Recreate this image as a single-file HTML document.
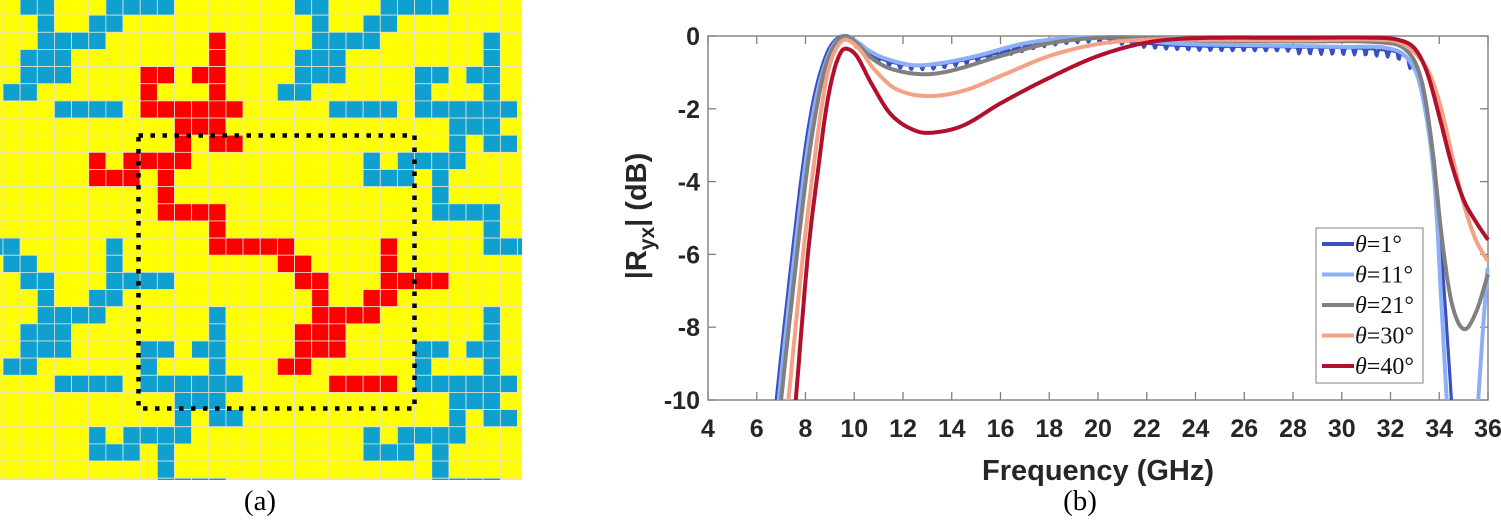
<!DOCTYPE html>
<html><head><meta charset="utf-8">
<style>
html,body{margin:0;padding:0;background:#fff;}
body{width:1501px;height:524px;position:relative;overflow:hidden;}
svg{position:absolute;left:0;top:0;}
</style></head>
<body>
<svg id="s" width="1501" height="524" viewBox="0 0 1501 524" xmlns="http://www.w3.org/2000/svg">
<defs>
<clipPath id="gc"><rect x="0" y="0" width="522" height="480"/></clipPath>
<clipPath id="ac"><rect x="708" y="30" width="782" height="370"/></clipPath>
</defs>
<g id="grid" clip-path="url(#gc)"></g>
<rect x="138.5" y="135.5" width="276" height="273" fill="none" stroke="#000" stroke-width="4.5" stroke-dasharray="4.5 7.5"/>
<text x="260" y="510" font-family="Liberation Serif, serif" font-size="29" text-anchor="middle">(a)</text>
<text x="1080" y="510" font-family="Liberation Serif, serif" font-size="29" text-anchor="middle">(b)</text>
<g id="axes"></g>
<g id="curves" clip-path="url(#ac)"></g>
<g font-family="Liberation Sans, sans-serif" font-weight="bold" fill="#262626">
<text x="1098" y="480" font-size="29" text-anchor="middle">Frequency (GHz)</text>
<text transform="translate(646,216) rotate(-90)" font-size="29" text-anchor="middle">|R<tspan font-size="21" dy="8">yx</tspan><tspan dy="-8">| (dB)</tspan></text>
</g>
<g id="legend">
<rect x="1316" y="228" width="107" height="155" fill="#fff" stroke="#808080" stroke-width="1"/>
</g>
</svg>
<script>
const NS="http://www.w3.org/2000/svg";
function el(t,a,p){const e=document.createElementNS(NS,t);for(const k in a)e.setAttribute(k,a[k]);(p||document.getElementById('s')).appendChild(e);return e;}
const unit=[[1,2,6,7,8,9],[2,5,6],[2,3,4,5,12],[1,2,3,12],[1,2,3,8,9,11,12],[0,1,8,12],[3,4,5,6,8,9,10,11,12,13],[10,11,12],[10,12,13],[5,7,8,9,10],[5,6,7,9],[9],[9,10,11,12],[12],[12,13,14,15,0,6],[0,1,6]];
const red={2:[12],3:[12],4:[8,9,11,12],5:[8,12],6:[8,9,10,11,12,13],7:[10,11,12],8:[10,12,13],9:[5,7,8,9,10],10:[5,6,7,9],11:[9],12:[9,10,11,12],13:[12],14:[12,13,14,15,16,22],15:[16,17,22],16:[17,18,22,23,24,25],17:[18,21,22],18:[18,19,20,21],19:[17,18,19],20:[17,18,19],21:[16,17],22:[19,20,21,22]};
const g=document.getElementById('grid');
const P=17.15,X0=3,Y0=-2;
el('rect',{x:0,y:0,width:522,height:480,fill:'#ffff00'},g);
for(let r=-1;r<=28;r++)for(let c=-1;c<=30;c++){
 const m=((r%16)+16)%16,n=((c%16)+16)%16;
 let col='#ffff00';
 if(unit[m].includes(n))col='#0fa0d0';
 if(red[r]&&red[r].includes(c))col='#ff0000';
 el('rect',{x:X0+c*P,y:Y0+r*P,width:P,height:P,fill:col,stroke:'#e2e2cc','stroke-width':0.8},g);
}
const ax=document.getElementById('axes');
const L=708,R=1488,T=36,B=400;
const fx=f=>L+(f-4)*(R-L)/32, fy=d=>T-d*(B-T)/10;
el('rect',{x:L,y:T,width:R-L,height:B-T,fill:'none',stroke:'#808080','stroke-width':1.4},ax);
for(let f=4;f<=36;f+=2){const x=fx(f);
 el('line',{x1:x,y1:B,x2:x,y2:B-8,stroke:'#808080','stroke-width':1.3},ax);
 el('line',{x1:x,y1:T,x2:x,y2:T+8,stroke:'#808080','stroke-width':1.3},ax);
 const t=el('text',{x:x,y:437,'font-family':'Liberation Sans, sans-serif','font-weight':'bold','font-size':25,'text-anchor':'middle',fill:'#262626'},ax);t.textContent=f;}
for(let d=0;d>=-10;d-=2){const y=fy(d);
 el('line',{x1:L,y1:y,x2:L+8,y2:y,stroke:'#808080','stroke-width':1.3},ax);
 el('line',{x1:R,y1:y,x2:R-8,y2:y,stroke:'#808080','stroke-width':1.3},ax);
 const t=el('text',{x:700,y:y+9,'font-family':'Liberation Sans, sans-serif','font-weight':'bold','font-size':25,'text-anchor':'end',fill:'#262626'},ax);t.textContent=d;}
function interp(pts,f){for(let i=0;i<pts.length-1;i++){if(f>=pts[i][0]&&f<=pts[i+1][0]){
 const p0=pts[Math.max(0,i-1)],p1=pts[i],p2=pts[i+1],p3=pts[Math.min(pts.length-1,i+2)];
 const t=(f-p1[0])/(p2[0]-p1[0]);
 const m1=(p2[1]-p0[1])/(p2[0]-p0[0])*(p2[0]-p1[0]), m2=(p3[1]-p1[1])/(p3[0]-p1[0])*(p2[0]-p1[0]);
 const t2=t*t,t3=t2*t;
 return (2*t3-3*t2+1)*p1[1]+(t3-2*t2+t)*m1+(-2*t3+3*t2)*p2[1]+(t3-t2)*m2;}}return null;}
const series=[
 {c:'#3a4fc0',w:3.2,noise:true,p:[[6.6,-11.5],[6.8,-10],[7.45,-6],[7.9,-3.5],[8.25,-2],[8.6,-1],[9.0,-0.3],[9.5,0],[10,-0.15],[10.5,-0.4],[11,-0.6],[12,-0.78],[13,-0.8],[14,-0.72],[16,-0.45],[18,-0.15],[20,-0.05],[22,-0.2],[24,-0.27],[28,-0.3],[32,-0.4],[32.8,-0.7],[33.3,-1.5],[33.8,-3.5],[34.2,-7],[34.55,-10.5],[34.7,-12]]},
 {c:'#8cb0f5',w:4,p:[[6.7,-11.5],[6.9,-10],[7.55,-6],[8.0,-3.5],[8.35,-2],[8.7,-1],[9.1,-0.3],[9.6,0],[10.1,-0.15],[10.6,-0.4],[11.2,-0.6],[12.4,-0.8],[13.5,-0.75],[15,-0.55],[17,-0.2],[19,-0.05],[21,-0.05],[23,-0.2],[26,-0.25],[30,-0.3],[32,-0.35],[32.8,-0.7],[33.3,-1.6],[33.8,-4],[34.1,-7.5],[34.35,-10.5],[34.5,-12],[35.4,-12],[35.6,-10],[35.8,-8],[36,-6.2]]},
 {c:'#808080',w:4,p:[[6.8,-11.5],[7.0,-10],[7.65,-6],[8.1,-3.5],[8.45,-2],[8.8,-0.9],[9.2,-0.25],[9.6,0],[10.1,-0.2],[10.7,-0.6],[11.5,-0.9],[12.8,-1.05],[14,-0.95],[16,-0.55],[18,-0.2],[20,-0.05],[22,-0.05],[24,-0.12],[28,-0.15],[32,-0.2],[32.8,-0.5],[33.3,-1.3],[33.7,-3],[34.1,-5.5],[34.5,-7.3],[35,-8.05],[35.5,-7.6],[36,-6.55]]},
 {c:'#f4a285',w:4,p:[[7.1,-11.5],[7.3,-10],[7.9,-6],[8.35,-3.5],[8.65,-2],[8.95,-0.9],[9.3,-0.3],[9.65,-0.1],[10.2,-0.35],[10.8,-0.9],[11.7,-1.45],[13,-1.65],[14.5,-1.5],[16,-1.1],[18,-0.55],[20,-0.22],[22,-0.1],[24,-0.1],[28,-0.12],[32,-0.12],[32.8,-0.35],[33.5,-0.9],[34,-1.8],[34.5,-3.2],[35,-4.6],[35.5,-5.6],[36,-6.2]]},
 {c:'#b0102c',w:4,p:[[7.4,-11.5],[7.6,-10],[8.1,-6],[8.55,-3.5],[8.85,-2],[9.15,-1],[9.45,-0.45],[9.7,-0.35],[10.1,-0.55],[10.7,-1.3],[11.5,-2.15],[12.5,-2.6],[13.3,-2.65],[14.5,-2.45],[16,-1.85],[18,-1.15],[20,-0.55],[22,-0.18],[24,-0.06],[28,-0.05],[31.5,-0.05],[32.4,-0.12],[33,-0.35],[33.5,-1.0],[34,-2.2],[34.5,-3.5],[35,-4.5],[35.5,-5.1],[36,-5.6]]}
];
const cg=document.getElementById('curves');
series.forEach((s,idx)=>{
 let pts=[];const a=s.p[0][0],b=s.p[s.p.length-1][0];
 for(let f=a;f<=b+1e-9;f+=0.04){let d=interp(s.p,f);if(d===null)continue;
  if(s.noise&&f>9.8&&f<33){const ph=(f*2.2)%1;d-=(ph<0.3?0.12*Math.sin(ph/0.3*Math.PI):0)*(f>28?1.6:1);}
  pts.push(fx(f).toFixed(1)+','+fy(d).toFixed(1));}
 el('polyline',{points:pts.join(' '),fill:'none',stroke:s.c,'stroke-width':s.w,'stroke-linejoin':'round'},cg);
 const y=244+idx*30.5;
 const lg=document.getElementById('legend');
 el('line',{x1:1322,y1:y,x2:1354,y2:y,stroke:s.c,'stroke-width':4},lg);
 const t=el('text',{x:1355,y:y+8,'font-family':'Liberation Serif, serif','font-size':24,fill:'#111'},lg);
 t.innerHTML='<tspan font-style="italic">θ</tspan>='+['1','11','21','30','40'][idx]+'°';
});
</script>
</body></html>
